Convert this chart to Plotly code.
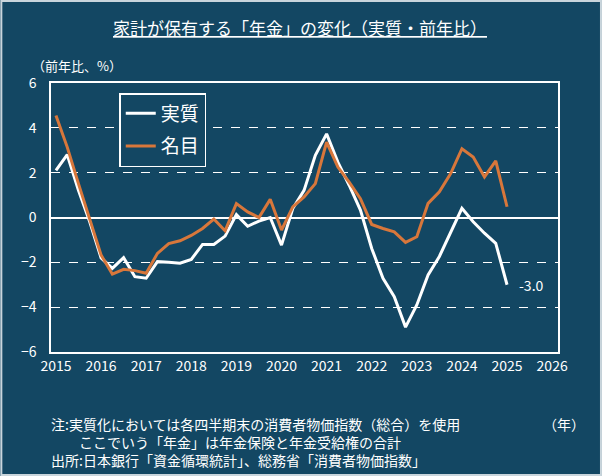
import plotly.graph_objects as go

# quarterly points, 2015 Q1 .. 2025 Q1
quarters = [2015 + i / 4 for i in range(41)]

real = [2.1, 2.8, 1.2, -0.2, -1.8, -2.27, -1.79, -2.64, -2.71, -1.97,
        -2.0, -2.04, -1.87, -1.2, -1.2, -0.83, 0.13, -0.39, -0.16, 0.0,
        -1.23, 0.4, 1.21, 2.77, 3.73, 2.47, 1.44, 0.33, -1.38, -2.71,
        -3.53, -4.89, -3.9, -2.56, -1.74, -0.65, 0.41, -0.19, -0.7, -1.15,
        -3.0]
nominal = [4.55, 3.14, 1.5, -0.06, -1.67, -2.53, -2.31, -2.37, -2.49, -1.6,
           -1.16, -1.04, -0.8, -0.49, -0.07, -0.59, 0.62, 0.25, 0.0, 0.81,
           -0.56, 0.47, 0.92, 1.51, 3.36, 2.25, 1.58, 0.84, -0.31, -0.49,
           -0.64, -1.11, -0.86, 0.63, 1.15, 1.96, 3.07, 2.7, 1.81, 2.53,
           0.48]

years = list(range(2015, 2027))
yticks = [-6, -4, -2, 0, 2, 4, 6]

notes = [
    "注:実質化においては各四半期末の消費者物価指数（総合）を使用",
    "　　ここでいう「年金」は年金保険と年金受給権の合計",
    "出所:日本銀行「資金循環統計」、総務省「消費者物価指数」",
]

BG = "#134763"
ORANGE = "#D8773B"
FONT = "Noto Sans CJK JP"

W, H = 602, 476
L, R, T, B = 50.7, 558, 83, 352


def px(x):
    return (x - L) / (R - L)


def py(y):
    return (B - y) / (B - T)


fig = go.Figure()
fig.add_trace(go.Scatter(x=quarters, y=real, mode="lines", name="実質",
                         legendgroup="a",
                         line=dict(color="white", width=3)))
fig.add_trace(go.Scatter(x=quarters, y=nominal, mode="lines", name="名目",
                         legendgroup="b",
                         line=dict(color=ORANGE, width=3)))

fig.add_annotation(x=quarters[-1], y=real[-1], text=f"{real[-1]:.1f}",
                   showarrow=False, xanchor="left", xshift=10,
                   font=dict(color="white", size=14, family=FONT))

fig.add_annotation(x=px(300), y=py(27), xref="paper", yref="paper",
                   text="<u>家計が保有する「年金」の変化（実質・前年比）</u>",
                   showarrow=False, xanchor="center", yanchor="middle",
                   font=dict(color="white", size=17, family=FONT))
fig.add_annotation(x=px(30), y=py(66), xref="paper", yref="paper",
                   text="（前年比、%）", showarrow=False, xanchor="left",
                   yanchor="middle",
                   font=dict(color="white", size=13, family=FONT))
fig.add_annotation(x=px(564), y=py(424), xref="paper", yref="paper",
                   text="（年）", showarrow=False, xanchor="center",
                   yanchor="middle",
                   font=dict(color="white", size=14, family=FONT))

fig.add_annotation(x=px(49), y=py(442), xref="paper", yref="paper",
                   text="<br>".join(notes), showarrow=False,
                   xanchor="left", yanchor="middle", align="left",
                   font=dict(color="white", size=14, family=FONT))

# thin light frame round the whole picture
fig.add_shape(type="rect", xref="paper", yref="paper",
              x0=px(1), x1=px(W - 1), y0=py(H - 1), y1=py(1),
              line=dict(color="#c9d5dc", width=2), layer="above")

fig.update_xaxes(range=[2014.89, 2026.13], tickvals=years, showgrid=False,
                 zeroline=False, showline=True, mirror=True, linecolor="white",
                 linewidth=1.5, ticks="", ticklabelstandoff=0,
                 tickfont=dict(color="white", size=14, family=FONT))
fig.update_yaxes(range=[-6, 6], tickvals=yticks, showgrid=True,
                 gridcolor="white", griddash="dash", gridwidth=1,
                 zeroline=True, zerolinecolor="white", zerolinewidth=1.5,
                 showline=True, mirror=True, linecolor="white", linewidth=1.5,
                 ticks="", ticklabelstandoff=10,
                 tickfont=dict(color="white", size=14, family=FONT))

fig.update_layout(
    width=W, height=H, autosize=False,
    margin=dict(l=L, r=W - R, t=T, b=H - B, pad=0),
    paper_bgcolor=BG, plot_bgcolor=BG,
    font=dict(family=FONT, color="white"),
    showlegend=True,
    legend=dict(x=px(119), y=py(93), xanchor="left", yanchor="top",
                bgcolor=BG, bordercolor="white", borderwidth=1.5,
                font=dict(color="white", size=19, family=FONT),
                tracegroupgap=5, itemwidth=30),
)

# no page margin so the figure sits at the window's corner
fig.write_html("out.html", config={"displayModeBar": False},
               post_script="document.body.style.margin='0';")
